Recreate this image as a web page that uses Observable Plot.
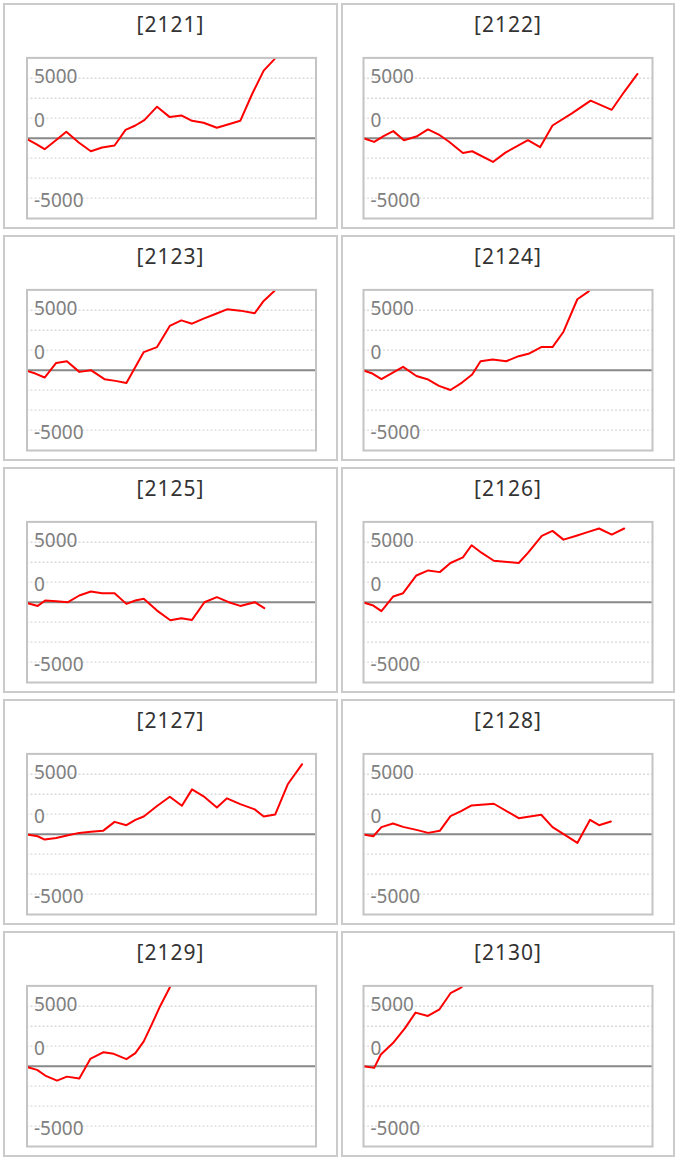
<!DOCTYPE html>
<html>
<head>
<meta charset="utf-8">
<script src="https://cdn.jsdelivr.net/npm/d3@7"></script>
<script src="https://cdn.jsdelivr.net/npm/@observablehq/plot@0.6"></script>
<style>
  html, body { margin: 0; padding: 0; background: #fff; }
  #root { position: relative; width: 678px; height: 1159px; font-family: "Noto Sans", sans-serif; }
  .panel { position: absolute; box-sizing: border-box; border: 2px solid #cbcbcb; background: #fff; }
  .title { position: absolute; left: 0; right: 0; top: 9px; text-align: center; font-size: 21px; line-height: 21px; letter-spacing: 1px; color: #333; }
</style>
</head>
<body>
<div id="root"></div>
<script>
// Machine numbers (panel titles)
const machines = ["2121", "2122", "2123", "2124", "2125", "2126", "2127", "2128", "2129", "2130"];

// Y-axis tick labels and dotted grid levels
const tickLabels = [5000, 0, -5000];
const gridLevels = [-5000, -3333, -1667, 1667, 3333, 5000];

// Series: [progress (% of day), balance]
const s2121 = [[0,-80],[2.9,-450],[6.1,-920],[9.8,-220],[13.6,530],[17.9,-360],[22.1,-1090],[26.0,-780],[30.3,-610],[34.1,700],[37.5,1060],[40.6,1510],[45.0,2630],[49.4,1760],[53.4,1900],[57.1,1450],[61.1,1290],[65.7,870],[69.8,1170],[73.8,1450],[77.9,3690],[81.9,5640],[85.4,6540],[88.0,7300]];
const s2122 = [[0,0],[3.7,-310],[7.1,200],[10.3,590],[14.0,-170],[18.3,140],[22.3,730],[26.4,250],[29.5,-280],[34.4,-1230],[37.6,-1090],[44.8,-1980],[49.1,-1200],[56.9,-170],[61.1,-750],[65.4,1060],[72.1,2070],[78.6,3130],[85.9,2370],[90.1,3830],[94.8,5360]];
const s2123 = [[0,-60],[2.9,-280],[6.1,-610],[10.1,610],[13.8,750],[18.1,-140],[22.1,0],[26.8,-750],[30.6,-890],[34.4,-1060],[40.4,1510],[45.0,1930],[49.4,3690],[53.4,4160],[57.1,3880],[61.1,4300],[65.2,4690],[69.2,5080],[73.8,4970],[78.8,4750],[81.9,5780],[85.4,6560],[87.5,7200]];
const s2124 = [[0,-30],[3.1,-280],[6.2,-750],[10.0,-220],[13.7,280],[18.3,-480],[22.1,-750],[26.1,-1310],[30.1,-1650],[34.1,-1030],[37.6,-360],[40.5,750],[44.7,890],[49.4,750],[53.7,1170],[57.1,1370],[61.5,1930],[65.4,1930],[69.2,3210],[74.0,5920],[77.8,6560],[80.0,7200]];
const s2125 = [[0,-60],[3.7,-310],[6.3,140],[10.1,80],[14.2,0],[18.1,560],[22.1,890],[26.0,750],[30.3,750],[34.4,-140],[37.5,140],[40.4,280],[45.0,-700],[49.6,-1510],[53.4,-1340],[57.1,-1480],[61.4,0],[65.7,420],[69.8,0],[73.8,-310],[78.8,0],[82.1,-500]];
const s2126 = [[0,-30],[3.4,-280],[6.2,-750],[10.3,480],[13.7,750],[18.3,2230],[22.4,2650],[26.4,2510],[30.1,3270],[34.4,3740],[37.4,4750],[40.8,4130],[45.1,3460],[53.7,3270],[56.9,4110],[61.7,5530],[65.4,5950],[69.2,5220],[73.4,5530],[77.8,5870],[81.5,6150],[85.9,5640],[90.2,6150]];
const s2127 = [[0,-30],[3.7,-170],[6.1,-450],[10.1,-310],[14.2,-80],[18.1,110],[22.1,200],[26.3,280],[30.3,1030],[34.4,750],[37.5,1200],[40.4,1480],[45.0,2350],[49.4,3130],[53.6,2370],[57.1,3740],[61.1,3160],[65.7,2230],[69.2,2990],[73.8,2510],[78.8,2070],[81.9,1480],[85.9,1650],[90.3,4190],[95.2,5840]];
const s2128 = [[0,-30],[3.4,-170],[6.2,590],[10.2,890],[13.7,610],[18.3,360],[22.4,110],[26.4,280],[30.1,1510],[33.6,1900],[37.4,2400],[45.1,2540],[53.7,1340],[61.5,1620],[65.4,590],[69.8,-80],[74.0,-730],[78.4,1200],[81.5,750],[85.6,1060]];
const s2129 = [[0,-60],[3.5,-310],[6.3,-780],[10.4,-1200],[13.8,-870],[18.1,-1030],[21.9,610],[26.5,1170],[30.0,1030],[34.4,590],[37.5,1090],[40.4,2070],[43.3,3550],[46.1,5030],[49.4,6560],[51.5,7400]];
const s2130 = [[0,0],[3.7,-140],[6.0,980],[10.2,1930],[14.3,3160],[18.0,4470],[22.3,4190],[26.3,4750],[30.1,6090],[33.6,6540],[36.0,7000]];

const seriesList = [s2121, s2122, s2123, s2124, s2125, s2126, s2127, s2128, s2129, s2130];

// vertical nudge of each tick label relative to its value (the "0" label sits above the zero line)
function labelDy(t) { return t === 0 ? -17 : (t > 0 ? -1.3 : 2.7); }

const root = document.getElementById("root");

machines.forEach((id, i) => {
  const col = i % 2, row = Math.floor(i / 2);
  const pw = col ? 334 : 335;
  const panel = document.createElement("div");
  panel.className = "panel";
  panel.style.left = (col ? 341 : 3) + "px";
  panel.style.top = (3 + row * 232) + "px";
  panel.style.width = pw + "px";
  panel.style.height = "226px";

  const title = document.createElement("div");
  title.className = "title";
  title.textContent = "[" + id + "]";
  panel.appendChild(title);

  const data = seriesList[i];
  const labelMarks = tickLabels.map(t => Plot.text([t], {
    y: d => d,
    text: d => String(d),
    frameAnchor: "left",
    textAnchor: "start",
    dx: 7,
    dy: labelDy(t),
    fill: "#808080",
    fontSize: 19
  }));
  const chart = Plot.plot({
    width: pw - 4,
    height: 178,
    marginTop: 12.4,
    marginBottom: 5,
    marginLeft: col ? 20 : 21.5,
    marginRight: col ? 21 : 20.5,
    x: {domain: [0, 100], axis: null},
    y: {domain: [-6700, 6700], axis: null},
    style: {fontFamily: "'Noto Sans', sans-serif", background: "#fff", overflow: "visible"},
    marks: [
      Plot.ruleY(gridLevels, {stroke: "#dadada", strokeWidth: 1.3, strokeDasharray: "2,2"}),
      Plot.ruleY([0], {stroke: "#888", strokeWidth: 2}),
      ...labelMarks,
      Plot.line(data, {x: d => d[0], y: d => d[1], stroke: "#ff0000", strokeWidth: 2, clip: true}),
      Plot.frame({stroke: "#c4c4c4", strokeWidth: 2})
    ]
  });
  chart.style.position = "absolute";
  chart.style.left = "0px";
  chart.style.top = "40px";
  panel.appendChild(chart);
  root.appendChild(panel);
});
</script>
</body>
</html>
